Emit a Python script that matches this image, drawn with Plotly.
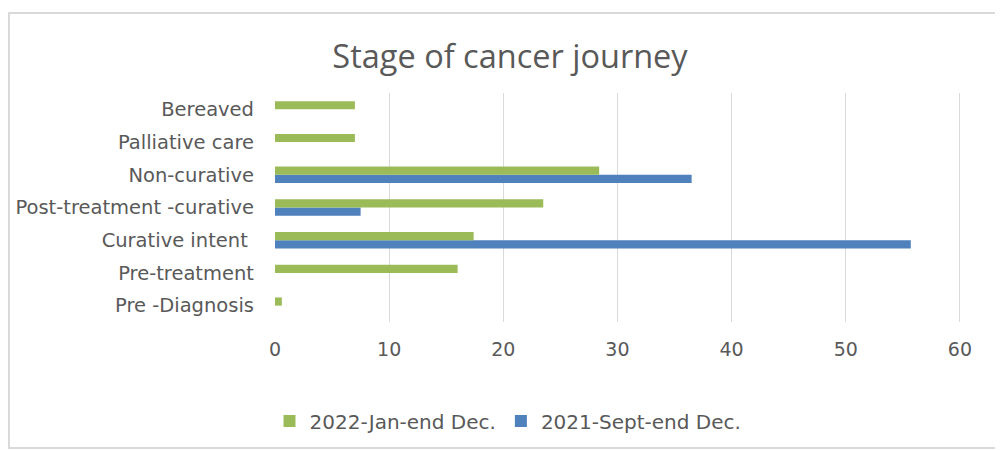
import plotly.graph_objects as go

categories = ["Pre -Diagnosis", "Pre-treatment", "Curative intent ", "Post-treatment -curative",
              "Non-curative", "Palliative care", "Bereaved"]
series_2022 = [0.6, 16.0, 17.4, 23.5, 28.4, 7.0, 7.0]
series_2021 = [None, None, 55.7, 7.5, 36.5, None, None]
name_2022 = "2022-Jan-end Dec."
name_2021 = "2021-Sept-end Dec."
x_ticks = [0, 10, 20, 30, 40, 50, 60]

# page body has an 8px margin; target coordinates below are in screenshot pixels
OFF = 8
W, H = 1003 - OFF, 450 - OFF
L, R, T, B = 275 - OFF, 18, 93 - OFF, 128

pw, ph = W - L - R, H - T - B
def px(x): return (x - OFF - L) / pw
def py(y): return (H - B - (y - OFF)) / ph

FONT = "DejaVu Sans"
GREY = "#595959"

fig = go.Figure()
fig.add_trace(go.Bar(y=categories, x=series_2021, orientation="h", name=name_2021,
                     marker=dict(color="#4F81BD", line=dict(width=0)), legendrank=2))
fig.add_trace(go.Bar(y=categories, x=series_2022, orientation="h", name=name_2022,
                     marker=dict(color="#9BBB59", line=dict(width=0)), legendrank=1))

fig.update_layout(
    width=W, height=H,
    margin=dict(l=L, r=R, t=T, b=B, autoexpand=False),
    paper_bgcolor="white", plot_bgcolor="white",
    barmode="group", bargap=0.5, bargroupgap=0,
    font=dict(family=FONT, color=GREY),
    title=dict(text="Stage of cancer journey", x=(510 - OFF) / W, xref="container", xanchor="center",
               y=1 - (57 - OFF) / H, yref="container", yanchor="middle",
               font=dict(family="Open Sans", size=32.5, color=GREY)),
    xaxis=dict(range=[0, 62.2], tickvals=x_ticks, showgrid=True, gridcolor="#d9d9d9", gridwidth=1,
               zeroline=False, showline=False, ticks="", tickfont=dict(size=19, color=GREY),
               ticklabelstandoff=14),
    yaxis=dict(showgrid=False, zeroline=False, showline=False, ticks="",
               tickfont=dict(size=19.5, color=GREY), ticklabelstandoff=20),
    legend=dict(orientation="h", x=px(508), xanchor="center", xref="paper",
                y=py(421), yanchor="middle", font=dict(size=20, color=GREY),
                traceorder="normal"),
    shapes=[dict(type="rect", xref="paper", yref="paper", x0=px(9), x1=px(1001), y0=py(448), y1=py(13),
                 line=dict(color="#d9d9d9", width=2), fillcolor="rgba(0,0,0,0)", layer="below")],
)

fig.write_html("out.html")
